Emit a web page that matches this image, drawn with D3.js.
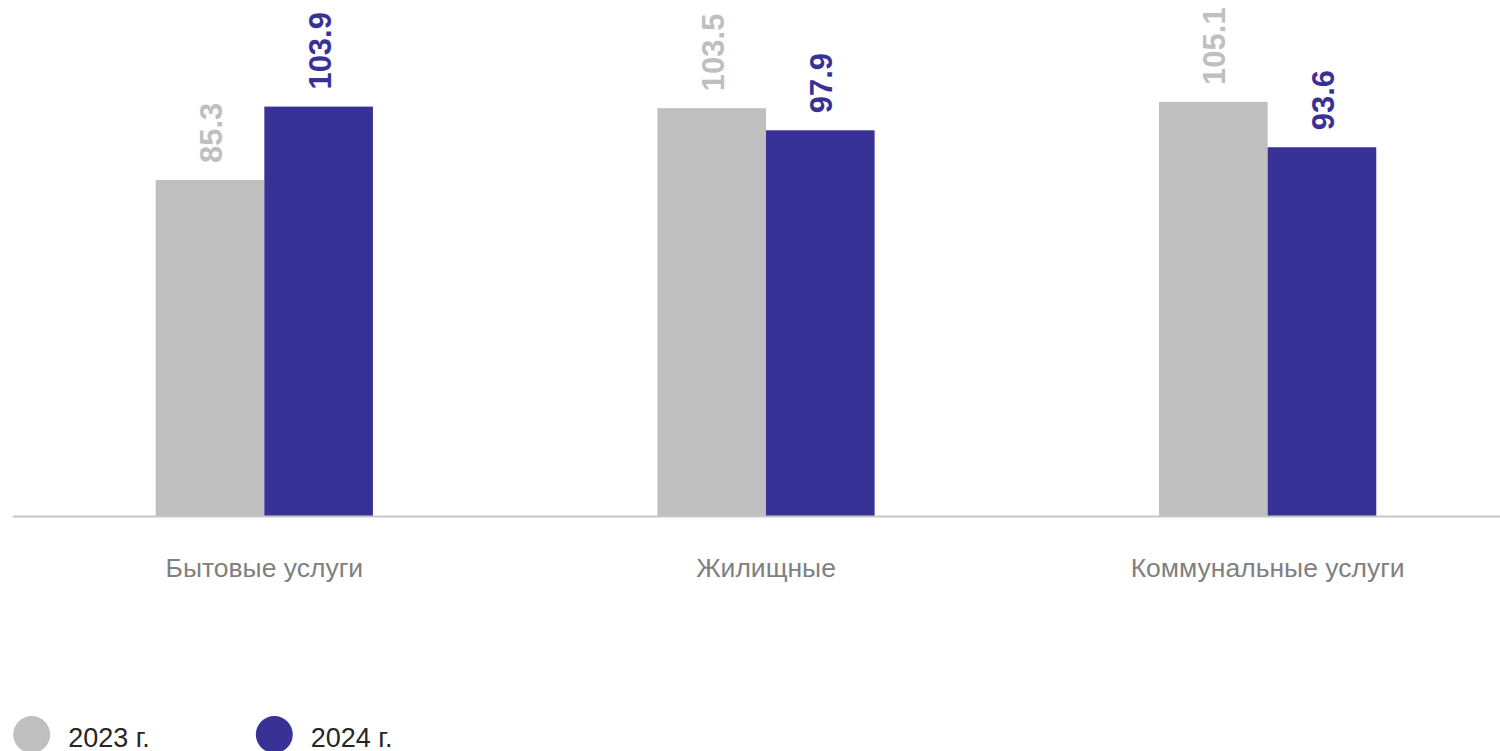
<!DOCTYPE html>
<html><head><meta charset="utf-8">
<script src="https://cdn.jsdelivr.net/npm/d3@7"></script>
<style>html,body{margin:0;padding:0;background:#fff;}svg{display:block;font-family:"Liberation Sans",Arial,sans-serif;}</style>
</head><body>
<svg id="chart" width="1500" height="751"></svg>
<script>
const categories = ["Бытовые услуги", "Жилищные", "Коммунальные услуги"];
const seriesNames = ["2023 г.", "2024 г."];
const values2023 = [85.3, 103.5, 105.1];
const values2024 = [103.9, 97.9, 93.6];
const colors = ["#bfbfbf", "#383296"];

const svg = d3.select("#chart");
const baseY = 516.5;
const y = d3.scaleLinear().domain([0, 130]).range([baseY, baseY - 130 * 3.945]);
const x0 = d3.scaleBand().domain(categories).range([13.5, 1518.5]).padding(0);
const innerW = x0.bandwidth() * 0.433;
const x1 = d3.scaleBand().domain(seriesNames).range([0, innerW]).padding(0);

const data = categories.map((c, i) => ({cat: c, vals: [values2023[i], values2024[i]]}));

const g = svg.append("g");
const groups = g.selectAll("g.grp").data(data).enter().append("g")
  .attr("transform", d => `translate(${x0(d.cat) + (x0.bandwidth() - innerW) / 2},0)`);

groups.selectAll("rect").data(d => d.vals.map((v, j) => ({v, j}))).enter().append("rect")
  .attr("x", d => x1(seriesNames[d.j]))
  .attr("width", x1.bandwidth())
  .attr("y", d => y(d.v))
  .attr("height", d => baseY - y(d.v))
  .attr("fill", d => colors[d.j]);

groups.selectAll("text.val").data(d => d.vals.map((v, j) => ({v, j}))).enter().append("text")
  .attr("class", "val")
  .attr("transform", d => `translate(${x1(seriesNames[d.j]) + x1.bandwidth() / 2 + 12},${y(d.v) - 17}) rotate(-90)`)
  .attr("text-anchor", "start")
  .attr("font-size", 31)
  .attr("font-weight", "bold")
  .attr("fill", d => colors[d.j])
  .text(d => d.v.toFixed(1));

// axis line
svg.append("line").attr("x1", 13).attr("x2", 1500).attr("y1", baseY).attr("y2", baseY)
  .attr("stroke", "#c8c8c8").attr("stroke-width", 2);

const xAxis = d3.axisBottom(x0).tickSize(0).tickPadding(0);
const ax = svg.append("g").attr("transform", `translate(0,${baseY})`).call(xAxis)
  .attr("font-family", null).attr("font-size", null);
ax.select(".domain").remove();
ax.selectAll("text").style("font-family", "'Liberation Sans', Arial, sans-serif")
  .style("font-size", "26.5px").attr("fill", "#808080")
  .attr("dy", 0).attr("y", 60.5);

// legend
const leg = svg.append("g");
const legX = [31.7, 274.3];
seriesNames.forEach((s, i) => {
  leg.append("circle").attr("cx", legX[i]).attr("cy", 734.5).attr("r", 18.5).attr("fill", colors[i]);
  leg.append("text").attr("x", legX[i] + 36.5).attr("y", 746.5).attr("font-size", 27).attr("fill", "#262626").text(s);
});
</script>
</body></html>
